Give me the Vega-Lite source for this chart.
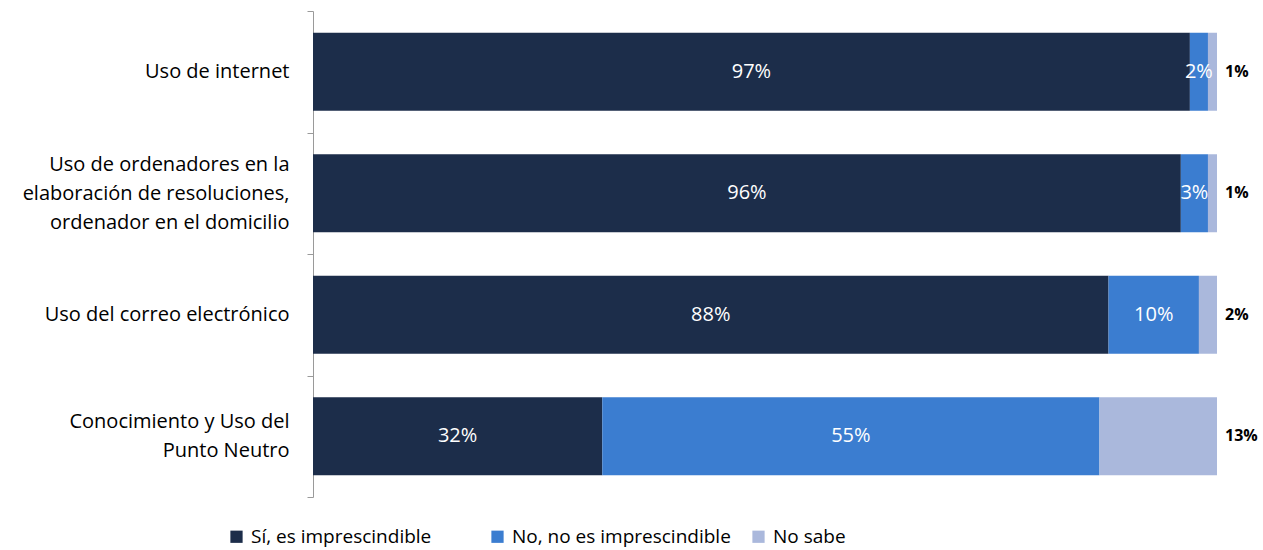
{
  "$schema": "https://vega.github.io/schema/vega-lite/v6.json",
  "width": 904,
  "height": 486,
  "autosize": {"type": "none"},
  "padding": {"left": 313, "top": 11, "right": 46, "bottom": 53},
  "background": "white",
  "config": {"view": {"stroke": null}, "font": "Open Sans"},
  "data": {"values": [
    {"cat": "Uso de internet", "resp": "Sí, es imprescindible", "value": 97, "ord": 1},
    {"cat": "Uso de internet", "resp": "No, no es imprescindible", "value": 2, "ord": 2},
    {"cat": "Uso de internet", "resp": "No sabe", "value": 1, "ord": 3},
    {"cat": "Uso de ordenadores en la|elaboración de resoluciones,|ordenador en el domicilio", "resp": "Sí, es imprescindible", "value": 96, "ord": 1},
    {"cat": "Uso de ordenadores en la|elaboración de resoluciones,|ordenador en el domicilio", "resp": "No, no es imprescindible", "value": 3, "ord": 2},
    {"cat": "Uso de ordenadores en la|elaboración de resoluciones,|ordenador en el domicilio", "resp": "No sabe", "value": 1, "ord": 3},
    {"cat": "Uso del correo electrónico", "resp": "Sí, es imprescindible", "value": 88, "ord": 1},
    {"cat": "Uso del correo electrónico", "resp": "No, no es imprescindible", "value": 10, "ord": 2},
    {"cat": "Uso del correo electrónico", "resp": "No sabe", "value": 2, "ord": 3},
    {"cat": "Conocimiento y Uso del|Punto Neutro", "resp": "Sí, es imprescindible", "value": 32, "ord": 1},
    {"cat": "Conocimiento y Uso del|Punto Neutro", "resp": "No, no es imprescindible", "value": 55, "ord": 2},
    {"cat": "Conocimiento y Uso del|Punto Neutro", "resp": "No sabe", "value": 13, "ord": 3}
  ]},
  "transform": [
    {"stack": "value", "groupby": ["cat"], "sort": [{"field": "ord"}], "as": ["v0", "v1"]},
    {"calculate": "(datum.v0 + datum.v1) / 2", "as": "mid"},
    {"calculate": "datum.value + '%'", "as": "lbl"}
  ],
  "encoding": {
    "y": {
      "field": "cat", "type": "nominal", "sort": null, "title": null,
      "scale": {"paddingInner": 0, "paddingOuter": 0},
      "axis": {
        "labelExpr": "split(datum.label, '|')",
        "labelFont": "Open Sans", "labelFontSize": 20, "labelColor": "#000000",
        "labelLineHeight": 29, "labelAlign": "right", "labelPadding": 18,
        "labelOffset": {"condition": [
          {"test": "length(split(datum.value, '|')) == 3", "value": -29},
          {"test": "length(split(datum.value, '|')) == 2", "value": -14.5}
        ], "value": 0},
        "labelLimit": 400,
        "tickBand": "extent", "tickSize": 6, "tickColor": "#9a9a9a",
        "domainColor": "#9a9a9a", "grid": false
      }
    }
  },
  "layer": [
    {
      "mark": {"type": "bar", "height": {"band": 0.642}},
      "encoding": {
        "x": {"field": "v0", "type": "quantitative", "scale": {"domain": [0, 100]}, "axis": null},
        "x2": {"field": "v1"},
        "color": {
          "field": "resp", "type": "nominal",
          "scale": {"domain": ["Sí, es imprescindible", "No, no es imprescindible", "No sabe"], "range": ["#1c2d4a", "#3b7dd0", "#aab8dc"]},
          "legend": {
            "title": null, "orient": "none", "direction": "horizontal",
            "legendX": -86, "legendY": 516,
            "symbolType": "square", "symbolSize": 150, "symbolStrokeWidth": 0,
            "labelFont": "Open Sans", "labelFontSize": 19, "labelColor": "#000000",
            "labelOffset": 5, "columnPadding": 18, "gridAlign": "all", "labelLimit": 400
          }
        }
      }
    },
    {
      "transform": [{"filter": "datum.resp != 'No sabe'"}],
      "mark": {"type": "text", "color": "white", "fontSize": 20, "font": "Open Sans", "align": "center", "baseline": "middle"},
      "encoding": {
        "x": {"field": "mid", "type": "quantitative"},
        "text": {"field": "lbl"}
      }
    },
    {
      "transform": [{"filter": "datum.resp == 'No sabe'"}],
      "mark": {"type": "text", "color": "black", "fontSize": 16, "fontWeight": "bold", "font": "Open Sans", "align": "left", "baseline": "middle", "dx": 8},
      "encoding": {
        "x": {"field": "v1", "type": "quantitative"},
        "text": {"field": "lbl"}
      }
    }
  ]
}
